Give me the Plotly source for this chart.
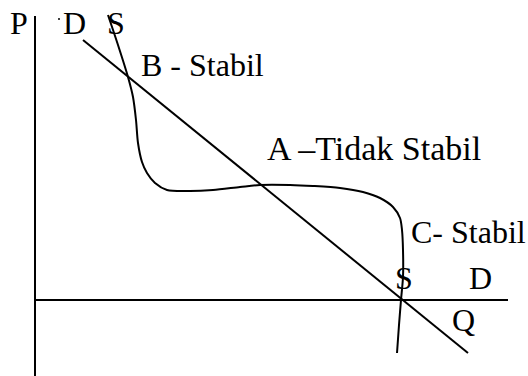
import plotly.graph_objects as go

# axes of the diagram (pixel-like units, y grows downward)
p_axis_x = [35, 35]
p_axis_y = [16, 376]
q_axis_x = [36, 508]
q_axis_y = [300, 300]

# demand line D
d_x = [83, 468]
d_y = [40, 353]

# supply curve S
s_x = [108, 118, 128, 133, 136, 138, 142, 147, 155, 167, 190, 213, 240, 260, 290,
       313, 340, 363, 380, 393, 400, 402, 403, 403, 401, 399, 397]
s_y = [15, 45, 77, 97, 120, 143, 162, 173, 183, 190, 191, 190, 187, 185, 185,
       186, 188, 192, 198, 207, 218, 230, 250, 277, 300, 325, 353]

labels = ["P", "D", "S", "B - Stabil", "A \u2013Tidak Stabil", "C- Stabil", "S", "D", "Q"]
label_x = [9, 62, 106, 140, 266, 410, 394, 468, 451]
label_y = [23, 23, 23, 65, 148, 232, 278, 278, 320]
label_size = [32, 32, 32, 32, 34, 32, 32, 32, 32]

line_style = dict(color="black", width=2)

fig = go.Figure()
fig.add_trace(go.Scatter(x=p_axis_x, y=p_axis_y, mode="lines", line=line_style))
fig.add_trace(go.Scatter(x=q_axis_x, y=q_axis_y, mode="lines", line=line_style))
fig.add_trace(go.Scatter(x=d_x, y=d_y, mode="lines", line=line_style))
fig.add_trace(go.Scatter(x=s_x, y=s_y, mode="lines",
                         line=dict(color="black", width=2, shape="spline", smoothing=0.8)))

for txt, lx, ly, fs in zip(labels, label_x, label_y, label_size):
    fig.add_annotation(x=lx, y=ly, text=txt, showarrow=False,
                       xanchor="left", yanchor="middle", borderpad=0,
                       font=dict(family="Times New Roman, Liberation Serif, serif",
                                 size=fs, color="black"))

# the little dot before the top D
fig.add_trace(go.Scatter(x=[59], y=[19], mode="markers",
                         marker=dict(color="black", size=2)))

fig.update_layout(
    width=528, height=376,
    margin=dict(l=0, r=0, t=0, b=0),
    paper_bgcolor="white", plot_bgcolor="white",
    showlegend=False,
    xaxis=dict(range=[0, 528], visible=False, fixedrange=True),
    yaxis=dict(range=[376, 0], visible=False, fixedrange=True),
)

# drop the default 8px body margin so the figure fills the window
fig.write_html("out.html", config={"displayModeBar": False},
               post_script="document.body.style.margin='0';")
